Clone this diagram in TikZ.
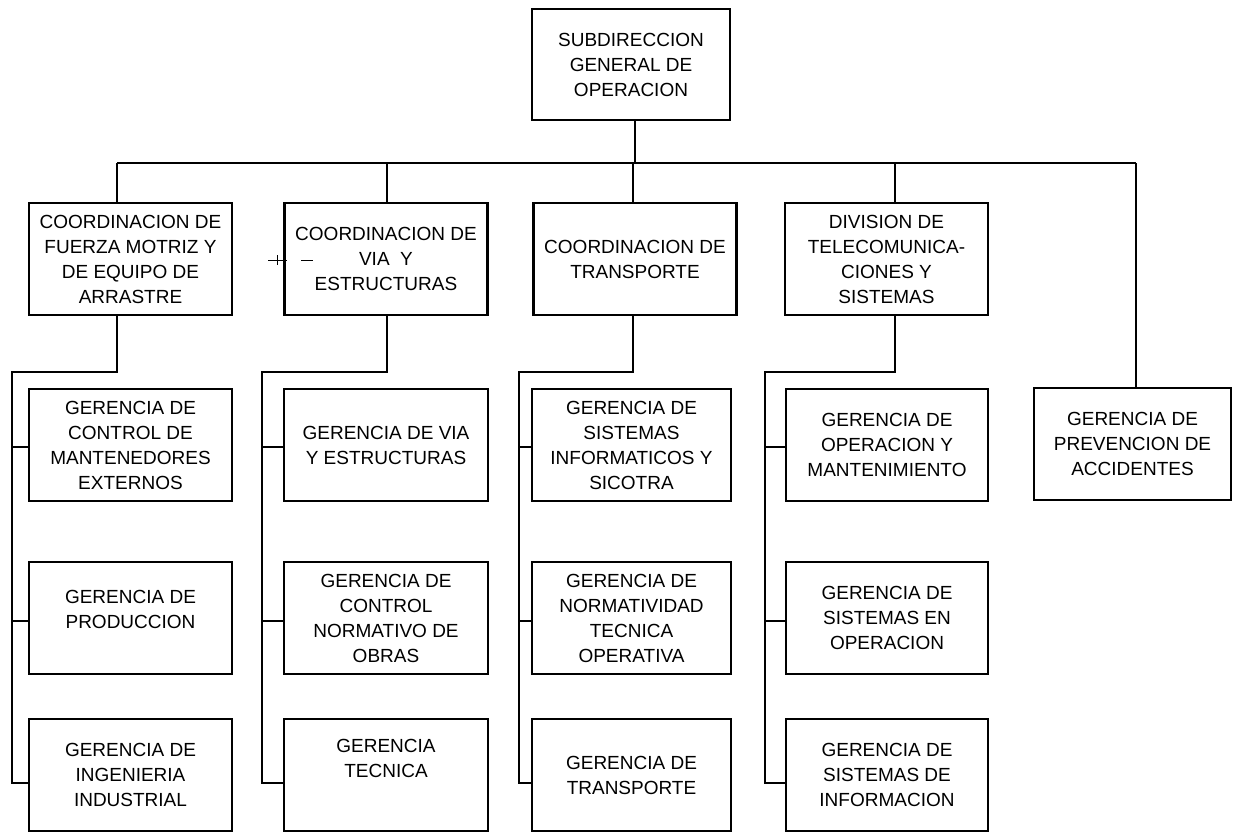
\documentclass[tikz,border=0pt]{standalone}
\usepackage{fontspec}
\setmainfont{Liberation Sans}
\begin{document}
\begin{tikzpicture}[x=1pt,y=-1pt,
  box/.style={draw, line width=2.6pt, rectangle, align=center, inner sep=0pt,
    font=\fontsize{19}{25}\selectfont},
  tbox/.style={box, minimum width=198pt, minimum height=111pt},
  kbox/.style={box, minimum width=203pt, minimum height=112pt},
  gbox/.style={box, minimum width=203pt, minimum height=112pt},
  plain/.style={align=center, inner sep=0pt, font=\fontsize{19}{25}\selectfont},
  wire/.style={line width=2.1pt},
  speck/.style={line width=0.9pt}]
\useasboundingbox (0,0) rectangle (1234,833);

% head
\node[tbox] (top) at (631,64.5) {SUBDIRECCION\\GENERAL DE\\OPERACION};

% coordinations and divisions
\node[kbox] (k1) at (130.5,259) {COORDINACION DE\\FUERZA MOTRIZ Y\\DE EQUIPO DE\\ARRASTRE};
\node[kbox] (k2) at (386,259) {COORDINACION DE\\VIA\ \ Y\\ESTRUCTURAS};
\node[kbox] (k3) at (635,259) {COORDINACION DE\\TRANSPORTE};
\node[kbox] (k4) at (886.5,259) {DIVISION DE\\TELECOMUNICA-\\CIONES Y\\SISTEMAS};
\node[gbox, minimum width=197pt] (r) at (1132.5,444) {GERENCIA DE\\PREVENCION DE\\ACCIDENTES};

% managements, column 1
\node[gbox] (g11) at (130.5,445) {GERENCIA DE\\CONTROL DE\\MANTENEDORES\\EXTERNOS};
\node[gbox] (g12) at (130.5,618) {};
\node[plain] (g12t) at (130.5,609) {GERENCIA DE\\PRODUCCION};
\node[gbox] (g13) at (130.5,775) {GERENCIA DE\\INGENIERIA\\INDUSTRIAL};

% column 2
\node[gbox, minimum width=204pt] (g21) at (386,445) {GERENCIA DE VIA\\Y ESTRUCTURAS};
\node[gbox, minimum width=204pt] (g22) at (386,618) {GERENCIA DE\\CONTROL\\NORMATIVO DE\\OBRAS};
\node[gbox, minimum width=204pt] (g23) at (386,775) {};
\node[plain] (g23t) at (386,758) {GERENCIA\\TECNICA};

% column 3
\node[gbox, minimum width=199pt] (g31) at (631.5,445) {GERENCIA DE\\SISTEMAS\\INFORMATICOS Y\\SICOTRA};
\node[gbox, minimum width=199pt] (g32) at (631.5,618) {GERENCIA DE\\NORMATIVIDAD\\TECNICA\\OPERATIVA};
\node[gbox, minimum width=199pt] (g33) at (631.5,775) {GERENCIA DE\\TRANSPORTE};

% column 4
\node[gbox, minimum width=202pt] (g41) at (887,445) {GERENCIA DE\\OPERACION Y\\MANTENIMIENTO};
\node[gbox, minimum width=202pt] (g42) at (887,618) {GERENCIA DE\\SISTEMAS EN\\OPERACION};
\node[gbox, minimum width=202pt] (g43) at (887,775) {GERENCIA DE\\SISTEMAS DE\\INFORMACION};

% main bus
\coordinate (b0) at (635,163);
\coordinate (b1) at (117,163);
\coordinate (b2) at (387,163);
\coordinate (b3) at (633,163);
\coordinate (b4) at (895,163);
\coordinate (b5) at (1136,163);
\draw[wire] (top.south -| b0) -- (b0);
\draw[wire] (b1) -- (b5);
\draw[wire] (b1) -- (b1 |- k1.north);
\draw[wire] (b2) -- (b2 |- k2.north);
\draw[wire] (b3) -- (b3 |- k3.north);
\draw[wire] (b4) -- (b4 |- k4.north);
\draw[wire] (b5) -- (b5 |- r.north);

% levels of the branches
\coordinate (y1) at (0,447);
\coordinate (y2) at (0,621);
\coordinate (y3) at (0,783);

% spines
\coordinate (s1) at (12,372);
\coordinate (s2) at (262,372);
\coordinate (s3) at (519,372);
\coordinate (s4) at (765,372);
\draw[wire] (b1 |- k1.south) |- (s1) -- (s1 |- y3) -- (g13.west |- y3);
\draw[wire] (b2 |- k2.south) |- (s2) -- (s2 |- y3) -- (g23.west |- y3);
\draw[wire] (b3 |- k3.south) |- (s3) -- (s3 |- y3) -- (g33.west |- y3);
\draw[wire] (b4 |- k4.south) |- (s4) -- (s4 |- y3) -- (g43.west |- y3);

% branches
\foreach \s/\c in {s1/1,s2/2,s3/3,s4/4}{
  \draw[wire] (\s |- y1) -- (g\c1.west |- y1);
  \draw[wire] (\s |- y2) -- (g\c2.west |- y2);
}

% small pen marks beside the second coordination
\draw[speck] (268,260) -- (287,260);
\draw[speck] (277,255) -- (277,265);
\draw[speck] (301,260) -- (313,260);
\end{tikzpicture}
\end{document}
